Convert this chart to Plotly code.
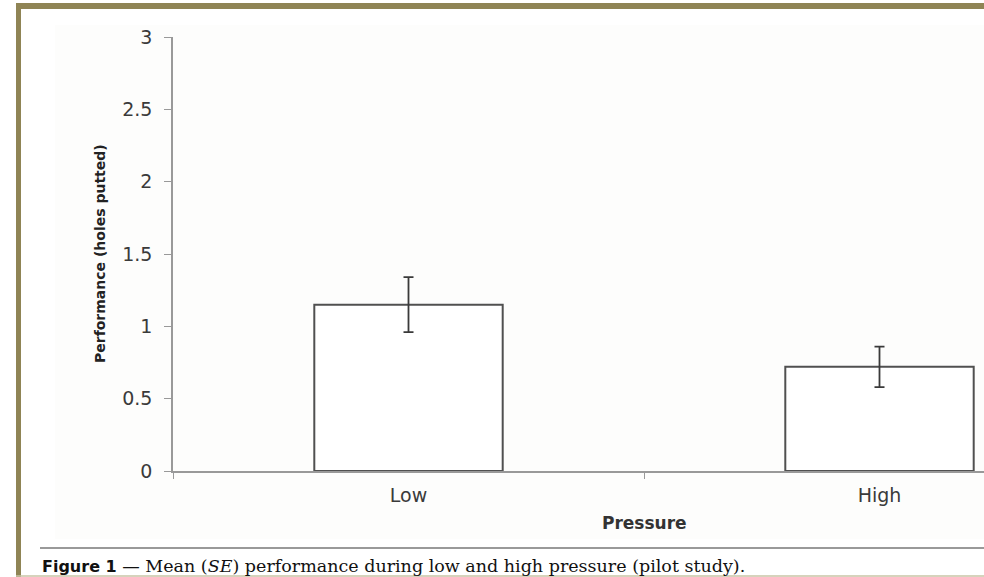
import plotly.graph_objects as go

categories = ["Low", "High"]
means = [1.15, 0.72]
se = [0.19, 0.14]
y_ticks = [0, 0.5, 1, 1.5, 2, 2.5, 3]
y_tick_labels = ["0", "0.5", "1", "1.5", "2", "2.5", "3"]
x_title = "Pressure"
y_title = "Performance (holes putted)"
caption = "<b>Figure 1</b>"
caption_rest = " — Mean (<i>SE</i>) performance during low and high pressure (pilot study)."

W, H = 984, 577
L, R, T, B = 173, 0, 37, 106
PW, PH = W - L - R, H - T - B


def px(x):
    return (x - L) / PW


def py(y):
    return (H - B - y) / PH


fig = go.Figure()
fig.add_trace(go.Bar(
    x=categories, y=means,
    marker=dict(color="white", line=dict(color="#505050", width=2)),
    error_y=dict(type="data", array=se, color="#3a3a3a", thickness=1.8, width=5),
    width=0.4,
))

axis_col = "#999999"
fig.update_layout(
    width=W, height=H,
    margin=dict(l=L, r=R, t=T, b=B),
    paper_bgcolor="white", plot_bgcolor="rgba(0,0,0,0)",
    showlegend=False,
    font=dict(family="DejaVu Sans", color="#404040"),
    xaxis=dict(
        range=[-0.5, -0.5 + PW / 471.0],
        showline=True, linecolor=axis_col, linewidth=1.5,
        ticks="outside", tickson="boundaries", ticklen=6, tickcolor=axis_col,
        showgrid=False, tickfont=dict(size=19, color="#3a3a3a"),
        zeroline=False, ticklabelstandoff=6,
    ),
    yaxis=dict(
        range=[0, 3], tickvals=y_ticks, ticktext=y_tick_labels,
        showline=True, linecolor=axis_col, linewidth=1.5,
        ticks="outside", ticklen=7, tickcolor=axis_col,
        showgrid=False, zeroline=False, tickfont=dict(size=19, color="#3a3a3a"),
        ticklabelstandoff=8,
    ),
)

shapes = []
# faint inner background
shapes.append(dict(type="rect", xref="paper", yref="paper", x0=px(55), x1=px(984), y0=py(539), y1=py(25),
                   fillcolor="#fdfdfc", line=dict(width=0), layer="below"))
# caption rule
shapes.append(dict(type="line", xref="paper", yref="paper", x0=px(40), x1=px(984), y0=py(548), y1=py(548),
                   line=dict(color="#777777", width=1.5)))
# olive frame
olive = "#8f8455"
shapes.append(dict(type="rect", xref="paper", yref="paper", x0=px(16), x1=px(21), y0=py(577), y1=py(3),
                   fillcolor=olive, line=dict(width=0)))
shapes.append(dict(type="rect", xref="paper", yref="paper", x0=px(16), x1=px(984), y0=py(9), y1=py(3),
                   fillcolor=olive, line=dict(width=0)))
shapes.append(dict(type="line", xref="paper", yref="paper", x0=px(16), x1=px(984), y0=py(576), y1=py(576),
                   line=dict(color="#c9c4a6", width=1.5)))
fig.update_layout(shapes=shapes)

fig.add_annotation(text=f"<b>{x_title}</b>", xref="paper", yref="paper", x=px(644), y=py(523),
                   xanchor="center", yanchor="middle",
                   showarrow=False, font=dict(size=17, family="DejaVu Sans", color="#333333"))
fig.add_annotation(text=f"<b>{y_title}</b>", xref="paper", yref="paper", x=px(100), y=py(254),
                   xanchor="center", yanchor="middle",
                   textangle=-90, showarrow=False, font=dict(size=14, family="DejaVu Sans", color="#222222"))
fig.add_annotation(text=f"<span style='font-family:DejaVu Sans;font-size:16px'>{caption}</span>"
                        f"<span style='font-family:DejaVu Serif;font-size:17.5px'>{caption_rest}</span>",
                   xref="paper", yref="paper", x=px(40), y=py(566), xanchor="left", yanchor="middle",
                   showarrow=False, font=dict(size=17, color="#111111"))

fig.write_html("out.html", config={"displayModeBar": False},
               post_script="document.body.style.margin='0';document.body.style.padding='0';")
